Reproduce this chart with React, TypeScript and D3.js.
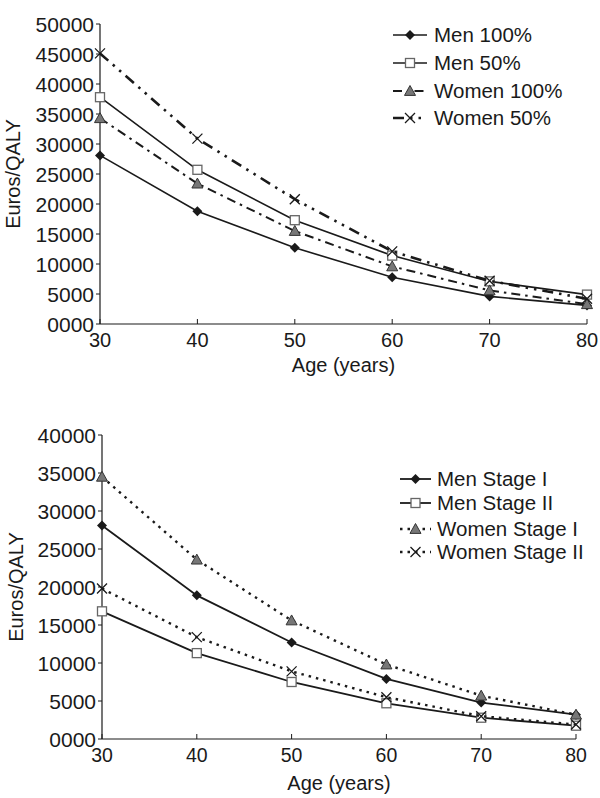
import React from "react";
import * as d3 from "d3";

const ages = [30, 40, 50, 60, 70, 80];
const men100 = [28100, 18800, 12700, 7800, 4600, 3100];
const men50 = [37800, 25700, 17300, 11400, 7100, 4900];
const women100 = [34300, 23400, 15500, 9600, 5600, 3300];
const women50 = [45100, 30900, 20800, 12100, 7200, 4200];

const menStageI = [28100, 18900, 12700, 7900, 4800, 3200];
const menStageII = [16800, 11300, 7500, 4700, 2800, 1750];
const womenStageI = [34500, 23600, 15600, 9800, 5700, 3200];
const womenStageII = [19800, 13400, 8900, 5500, 3000, 1900];

const topTicks = [0, 5000, 10000, 15000, 20000, 25000, 30000, 35000, 40000, 45000, 50000];
const bottomTicks = [0, 5000, 10000, 15000, 20000, 25000, 30000, 35000, 40000];
const xTicks = [30, 40, 50, 60, 70, 80];

const FONT = "'Liberation Sans', Arial, Helvetica, sans-serif";
const INK = "#1a1a1a";

type MarkerKind = "diamond" | "square" | "triangle" | "cross";

function Marker({ kind, x, y }: { kind: MarkerKind; x: number; y: number }) {
  if (kind === "diamond") {
    const s = 5;
    return <path d={`M${x},${y - s}L${x + s},${y}L${x},${y + s}L${x - s},${y}Z`} fill={INK} />;
  }
  if (kind === "square") {
    const s = 4.5;
    return <rect x={x - s} y={y - s} width={2 * s} height={2 * s} fill="#fff" stroke="#666" strokeWidth={1.3} />;
  }
  if (kind === "triangle") {
    const s = 5.5;
    return (
      <path
        d={`M${x},${y - s}L${x + s},${y + s * 0.8}L${x - s},${y + s * 0.8}Z`}
        fill="#777"
        stroke="#333"
        strokeWidth={1}
      />
    );
  }
  const s = 5;
  return (
    <path d={`M${x - s},${y - s}L${x + s},${y + s}M${x + s},${y - s}L${x - s},${y + s}`} stroke={INK} strokeWidth={1.3} />
  );
}

type Series = {
  name: string;
  values: number[];
  marker: MarkerKind;
  dash?: string;
  width: number;
};

type PanelProps = {
  x0: number;
  x1: number;
  y0: number;
  y1: number;
  yMax: number;
  yTicks: number[];
  series: Series[];
  legendX: number;
  legendY: number[];
  legendLine: [number, number];
  legendTextX: number;
  xLabelY: number;
  titleY: number;
  yTitleX: number;
  xFont: number;
};

function Panel(p: PanelProps) {
  const x = d3.scaleLinear().domain([30, 80]).range([p.x0, p.x1]);
  const y = d3.scaleLinear().domain([0, p.yMax]).range([p.y0, p.y1]);
  const line = d3
    .line<number>()
    .x((_, i) => x(ages[i]))
    .y((v) => y(v));
  const fmt = (v: number) => (v === 0 ? "0000" : String(v));
  return (
    <g>
      {/* axes */}
      <line x1={p.x0} x2={p.x0} y1={p.y0} y2={p.y1} stroke={INK} strokeWidth={1.2} />
      <line x1={p.x0} x2={p.x1} y1={p.y0} y2={p.y0} stroke={INK} strokeWidth={1.2} />
      {p.yTicks.map((t) => (
        <g key={t}>
          <line x1={p.x0 - 4} x2={p.x0} y1={y(t)} y2={y(t)} stroke={INK} strokeWidth={1} />
          <text
            x={p.x0 - 6}
            y={y(t)}
            dy="0.36em"
            textAnchor="end"
            fontSize={21}
            fontFamily={FONT}
            fill={INK}
          >
            {fmt(t)}
          </text>
        </g>
      ))}
      {xTicks.map((t) => (
        <g key={t}>
          <line x1={x(t)} x2={x(t)} y1={p.y0} y2={p.y0 - 5} stroke={INK} strokeWidth={1} />
          <text
            x={x(t)}
            y={p.y0 + 16}
            dy="0.36em"
            textAnchor="middle"
            fontSize={p.xFont}
            fontFamily={FONT}
            fill={INK}
          >
            {t}
          </text>
        </g>
      ))}
      <text
        x={(p.x0 + p.x1) / 2}
        y={p.xLabelY}
        dy="0.36em"
        textAnchor="middle"
        fontSize={20}
        fontFamily={FONT}
        fill={INK}
      >
        Age (years)
      </text>
      <text
        transform={`translate(${p.yTitleX},${p.titleY}) rotate(-90)`}
        dy="0.36em"
        textAnchor="middle"
        fontSize={20}
        fontFamily={FONT}
        fill={INK}
      >
        Euros/QALY
      </text>
      {/* series */}
      {p.series.map((s) => (
        <g key={s.name}>
          <path
            d={line(s.values) || ""}
            fill="none"
            stroke={INK}
            strokeWidth={s.width}
            strokeDasharray={s.dash}
          />
          {s.values.map((v, i) => (
            <Marker key={i} kind={s.marker} x={x(ages[i])} y={y(v)} />
          ))}
        </g>
      ))}
      {/* legend */}
      {p.series.map((s, i) => {
        const ly = p.legendY[i];
        const [a, b] = p.legendLine;
        const mid = (a + b) / 2;
        return (
          <g key={"lg" + s.name}>
            <line x1={a} x2={b} y1={ly} y2={ly} stroke={INK} strokeWidth={s.width} strokeDasharray={s.dash} />
            <Marker kind={s.marker} x={mid} y={ly} />
            <text x={p.legendTextX} y={ly} dy="0.36em" fontSize={20.5} fontFamily={FONT} fill={INK}>
              {s.name}
            </text>
          </g>
        );
      })}
    </g>
  );
}

export default function App() {
  const topSeries: Series[] = [
    { name: "Men 100%", values: men100, marker: "diamond", width: 1.6 },
    { name: "Men 50%", values: men50, marker: "square", width: 1.6 },
    { name: "Women 100%", values: women100, marker: "triangle", width: 2, dash: "9,5,2.5,5" },
    { name: "Women 50%", values: women50, marker: "cross", width: 2.6, dash: "11,6,2.5,6,2.5,6" },
  ];
  const bottomSeries: Series[] = [
    { name: "Men Stage I", values: menStageI, marker: "diamond", width: 1.8 },
    { name: "Men Stage II", values: menStageII, marker: "square", width: 1.8 },
    { name: "Women Stage I", values: womenStageI, marker: "triangle", width: 2.4, dash: "2.5,5" },
    { name: "Women Stage II", values: womenStageII, marker: "cross", width: 2.4, dash: "2.5,5" },
  ];
  return (
    <svg width={600} height={798} style={{ position: "absolute", left: 0, top: 0, background: "#fff" }}>
      <rect width={600} height={798} fill="#fff" />
      <Panel
        x0={100}
        x1={587}
        y0={324}
        y1={24}
        yMax={50000}
        yTicks={topTicks}
        series={topSeries}
        legendX={393}
        legendY={[35, 63, 91, 118]}
        legendLine={[393, 427]}
        legendTextX={434}
        xLabelY={365}
        titleY={174}
        yTitleX={13}
        xFont={20}
      />
      <Panel
        x0={102}
        x1={576}
        y0={739}
        y1={435}
        yMax={40000}
        yTicks={bottomTicks}
        series={bottomSeries}
        legendX={400}
        legendY={[479, 503, 529, 552]}
        legendLine={[400, 431]}
        legendTextX={437}
        xLabelY={783}
        titleY={587}
        yTitleX={16}
        xFont={19.5}
      />
    </svg>
  );
}
